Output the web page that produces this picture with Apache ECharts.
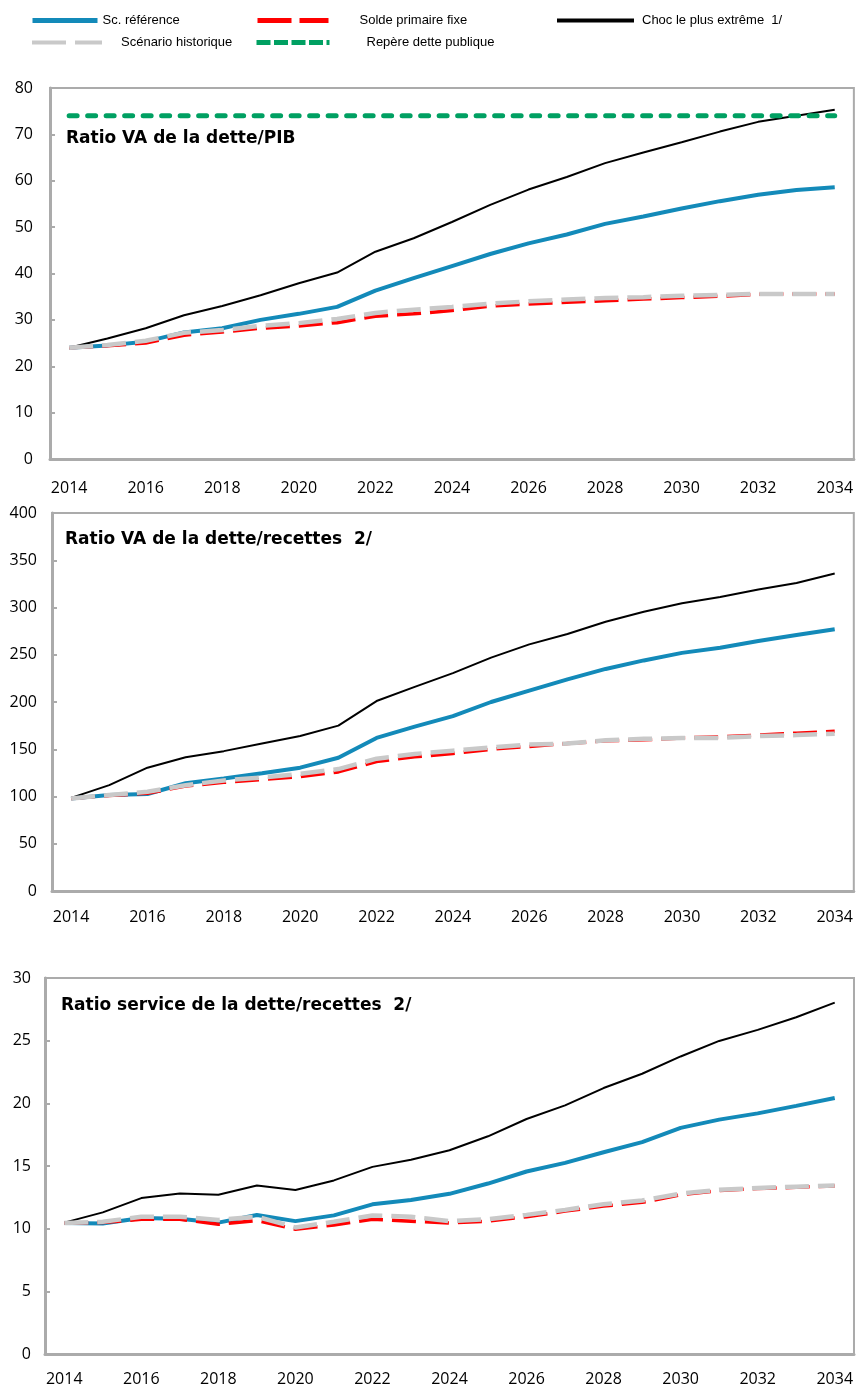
<!DOCTYPE html>
<html>
<head>
<meta charset="utf-8">
<script src="https://cdn.jsdelivr.net/npm/echarts@6/dist/echarts.min.js"></script>
<style>
  html, body { margin: 0; padding: 0; background: #fff; }
  #chart { width: 856px; height: 1387px; }
</style>
</head>
<body>
<div id="chart"></div>
<script>
// categories
const years = ["2014", "2015", "2016", "2017", "2018", "2019", "2020", "2021", "2022", "2023", "2024",
  "2025", "2026", "2027", "2028", "2029", "2030", "2031", "2032", "2033", "2034"];

// Ratio VA de la dette/PIB
const pibRef = [24, 24.5, 25.3, 27.3, 28.2, 30.0, 31.3, 32.8, 36.3, 39.0, 41.6, 44.2, 46.5, 48.4, 50.7, 52.3, 54.0, 55.6, 57.0, 58.0, 58.6];
const pibSolde = [24, 24.4, 25.0, 26.7, 27.4, 28.2, 28.7, 29.4, 30.8, 31.3, 32.0, 33.0, 33.4, 33.8, 34.1, 34.5, 34.8, 35.1, 35.5, 35.6, 35.6];
const pibHist = [24, 24.6, 25.5, 27.2, 27.8, 28.7, 29.3, 30.2, 31.5, 32.2, 32.8, 33.5, 34.0, 34.4, 34.7, 34.9, 35.2, 35.4, 35.6, 35.6, 35.6];
const pibChoc = [24, 26.0, 28.2, 31.0, 33.0, 35.3, 37.9, 40.2, 44.7, 47.6, 51.1, 54.8, 58.1, 60.8, 63.8, 66.1, 68.3, 70.6, 72.7, 74.0, 75.3];
const pibRepere = [74, 74, 74, 74, 74, 74, 74, 74, 74, 74, 74, 74, 74, 74, 74, 74, 74, 74, 74, 74, 74];

// Ratio VA de la dette/recettes
const recRef = [98, 101.6, 102.6, 114, 119, 124.5, 130.5, 141, 162, 174, 185, 200, 212, 224, 235, 244, 252, 257.5, 264.5, 271, 277];
const recSolde = [98, 101, 103.5, 111, 115, 118, 121, 126, 137, 142, 145.5, 150, 153, 156, 159, 160, 162, 163, 165, 167, 169];
const recHist = [98, 101.5, 105, 112, 117, 120, 124, 129, 140, 145, 148.5, 152, 155, 156, 159.5, 161, 162, 162, 164, 165, 166.5];
const recChoc = [98.5, 112, 130.5, 141.5, 148, 156, 164, 175, 201, 216, 230.5, 247, 261, 272, 285, 295.5, 304.5, 311, 319, 326, 336];

// Ratio service de la dette/recettes
const svcRef = [10.45, 10.42, 10.85, 10.8, 10.48, 11.09, 10.6, 11.06, 11.94, 12.28, 12.78, 13.6, 14.56, 15.25, 16.1, 16.9, 18.04, 18.7, 19.2, 19.8, 20.42];
const svcSolde = [10.45, 10.5, 10.75, 10.75, 10.35, 10.65, 9.95, 10.3, 10.75, 10.6, 10.45, 10.6, 10.95, 11.4, 11.8, 12.1, 12.7, 13.05, 13.2, 13.3, 13.4];
const svcHist = [10.45, 10.55, 10.95, 10.95, 10.7, 10.95, 10.1, 10.55, 11.05, 10.95, 10.6, 10.75, 11.1, 11.5, 11.95, 12.25, 12.8, 13.1, 13.25, 13.35, 13.45];
const svcChoc = [10.48, 11.3, 12.44, 12.8, 12.7, 13.45, 13.08, 13.85, 14.93, 15.5, 16.26, 17.37, 18.75, 19.84, 21.22, 22.36, 23.74, 24.98, 25.86, 26.87, 28.04];

// y axis ranges [min, max, interval]
const yRanges = [[0, 80, 10], [0, 400, 50], [0, 30, 5]];

const names = {
  ref: "Sc. référence",
  solde: "Solde primaire fixe",
  choc: "Choc le plus extrême  1/",
  hist: "Scénario historique",
  repere: "Repère dette publique",
};

const AXIS_GRAY = "#ABABAB";
const FONT = "'Open Sans', sans-serif";

const lineStyles = {
  ref: { color: "#138AB9", width: 4 },
  solde: { color: "#FF0000", width: 3.5, type: [24, 9] },
  hist: { color: "#C9C9C9", width: 4.5, type: [24, 9] },
  choc: { color: "#000000", width: 2 },
  repere: { color: "#00A062", width: 5, type: [8, 10.5], cap: "round" },
};

function line(key, idx, data) {
  return {
    name: names[key],
    type: "line",
    xAxisIndex: idx,
    yAxisIndex: idx,
    data: data,
    symbol: "none",
    animation: false,
    color: lineStyles[key].color,
    lineStyle: lineStyles[key],
  };
}

const grids = [
  { left: 50, right: 1, top: 88, bottom: 928 },
  { left: 52, right: 2, top: 513, bottom: 496 },
  { left: 45, right: 1, top: 978, bottom: 32 },
];
const xLabelMargins = [21, 18, 17];
const yLabelMargins = [17, 15, 14];

const chart = echarts.init(document.getElementById("chart"));

function legendItem(key, left, top, width, pad, legendLine) {
  return {
    data: [names[key]],
    left: left,
    top: top,
    padding: 0,
    itemWidth: width,
    itemHeight: 14,
    selectedMode: false,
    itemStyle: { opacity: 0 },
    lineStyle: legendLine,
    textStyle: { fontFamily: "'Liberation Sans', Arial, sans-serif", fontSize: 13, color: "#000", padding: [0, 0, 0, pad] },
  };
}

const options = {
  backgroundColor: "#fff",
  textStyle: { fontFamily: FONT },
  legend: [
    legendItem("ref", 30, 14, 65, 0, { width: 5, type: "solid" }),
    legendItem("solde", 255, 14, 71, 26, { width: 5, type: [34, 8] }),
    legendItem("choc", 555, 14, 77, 3, { width: 4, type: "solid" }),
    legendItem("hist", 30, 36, 70, 14, { width: 4, type: [34, 9] }),
    legendItem("repere", 254, 36, 73, 32, { width: 5, type: [14, 3.5], cap: "butt" }),
  ],
  title: [
    { text: "Ratio VA de la dette/PIB", left: 66, top: 130 },
    { text: "Ratio VA de la dette/recettes  2/", left: 65, top: 531 },
    { text: "Ratio service de la dette/recettes  2/", left: 61, top: 997 },
  ].map((t) => ({
    ...t,
    padding: 0,
    textStyle: { fontFamily: "'DejaVu Sans', sans-serif", fontWeight: "bold", fontSize: 17, color: "#000" },
  })),
  grid: grids.map((g) => ({ ...g, show: true, borderColor: AXIS_GRAY, borderWidth: 2, containLabel: false })),
  xAxis: grids.map((g, i) => ({
    type: "category",
    gridIndex: i,
    data: years,
    boundaryGap: true,
    axisLine: { lineStyle: { color: AXIS_GRAY, width: 3 } },
    axisTick: { inside: true, length: 5, interval: 0, lineStyle: { color: AXIS_GRAY, width: 2 } },
    axisLabel: { interval: 1, margin: xLabelMargins[i], fontSize: 16, color: "#000", fontFamily: FONT },
    splitLine: { show: false },
  })),
  yAxis: yRanges.map((r, i) => ({
    type: "value",
    gridIndex: i,
    min: r[0],
    max: r[1],
    interval: r[2],
    axisLine: { show: true, lineStyle: { color: AXIS_GRAY, width: 3 } },
    axisTick: { show: true, inside: true, length: 5, lineStyle: { color: AXIS_GRAY, width: 2 } },
    axisLabel: { margin: yLabelMargins[i], fontSize: 16, color: "#000", fontFamily: FONT },
    splitLine: { show: false },
  })),
  series: [
    line("choc", 0, pibChoc),
    line("ref", 0, pibRef),
    line("solde", 0, pibSolde),
    line("hist", 0, pibHist),
    line("repere", 0, pibRepere),
    line("choc", 1, recChoc),
    line("ref", 1, recRef),
    line("solde", 1, recSolde),
    line("hist", 1, recHist),
    line("choc", 2, svcChoc),
    line("ref", 2, svcRef),
    line("solde", 2, svcSolde),
    line("hist", 2, svcHist),
  ],
};
chart.setOption(options);
</script>
</body>
</html>
